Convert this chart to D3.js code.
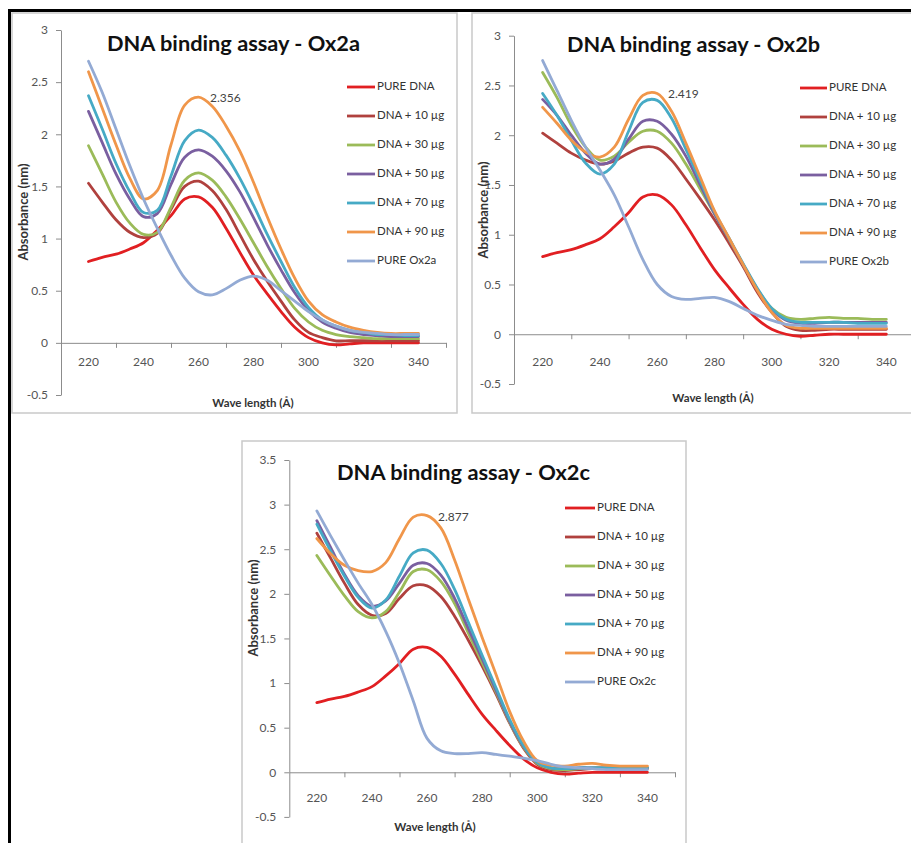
<!DOCTYPE html>
<html><head><meta charset="utf-8">
<script src="https://cdn.jsdelivr.net/npm/d3@7"></script>
<style>body{margin:0;background:#fff;} svg{display:block;font-family:Lato,"Open Sans",sans-serif;}</style>
</head><body>
<svg id="chart" width="911" height="843"></svg>
<script>
// ---------- DATA ----------
const wavelengths = [220,225,230,235,240,245,250,255,260,265,270,275,280,285,290,295,300,305,310,315,320,325,330,335,340];
const seriesNames = ["PURE DNA","DNA + 10 µg","DNA + 30 µg","DNA + 50 µg","DNA + 70 µg","DNA + 90 µg"];
const oxNames = ["PURE Ox2a","PURE Ox2b","PURE Ox2c"];
const panelTitles = ["DNA binding assay - Ox2a","DNA binding assay - Ox2b","DNA binding assay - Ox2c"];
const peakLabels = ["2.356","2.419","2.877"];
const xTickLabels = [220,240,260,280,300,320,340];
const xTickMarks = [230,250,270,290,310,330,350];
const yTicksAB = [-0.5,0,0.5,1,1.5,2,2.5,3];
const yTicksC = [-0.5,0,0.5,1,1.5,2,2.5,3,3.5];

const pureDNA = [0.78,0.82,0.85,0.90,0.96,1.08,1.22,1.38,1.40,1.30,1.10,0.87,0.65,0.47,0.30,0.15,0.05,0.00,-0.02,-0.01,0.00,0.00,0.00,0.00,0.00];

const a10 = [1.53,1.35,1.18,1.06,1.01,1.05,1.28,1.50,1.55,1.46,1.28,1.04,0.80,0.59,0.40,0.22,0.10,0.05,0.02,0.02,0.02,0.02,0.02,0.02,0.02];
const a30 = [1.89,1.62,1.35,1.15,1.04,1.06,1.30,1.56,1.63,1.56,1.40,1.19,0.96,0.73,0.52,0.33,0.20,0.12,0.08,0.06,0.05,0.04,0.04,0.04,0.04];
const a50 = [2.22,1.92,1.62,1.38,1.21,1.24,1.52,1.78,1.85,1.79,1.65,1.45,1.20,0.94,0.70,0.48,0.31,0.20,0.14,0.10,0.08,0.07,0.06,0.06,0.06];
const a70 = [2.37,2.05,1.72,1.45,1.25,1.27,1.60,1.94,2.04,1.97,1.80,1.58,1.32,1.04,0.78,0.53,0.34,0.22,0.16,0.12,0.10,0.08,0.08,0.07,0.07];
const a90 = [2.60,2.25,1.90,1.58,1.38,1.46,1.90,2.28,2.356,2.27,2.08,1.84,1.54,1.21,0.90,0.62,0.40,0.27,0.20,0.15,0.12,0.10,0.09,0.09,0.09];
const aOx = [2.70,2.40,2.05,1.70,1.38,1.10,0.84,0.62,0.49,0.46,0.52,0.60,0.64,0.60,0.50,0.40,0.30,0.22,0.16,0.12,0.10,0.09,0.08,0.08,0.08];

const b10 = [2.02,1.92,1.82,1.75,1.71,1.74,1.82,1.88,1.87,1.75,1.56,1.36,1.15,0.92,0.68,0.42,0.22,0.08,0.04,0.04,0.05,0.05,0.05,0.05,0.05];
const b30 = [2.63,2.38,2.10,1.88,1.75,1.79,1.93,2.04,2.04,1.92,1.71,1.46,1.21,0.96,0.70,0.45,0.26,0.17,0.15,0.16,0.17,0.16,0.16,0.15,0.15];
const b50 = [2.36,2.20,2.00,1.82,1.71,1.76,1.96,2.14,2.14,2.01,1.79,1.50,1.21,0.96,0.70,0.45,0.25,0.14,0.11,0.11,0.12,0.12,0.12,0.12,0.12];
const b70 = [2.42,2.20,1.95,1.72,1.61,1.71,2.04,2.33,2.35,2.17,1.86,1.54,1.23,0.97,0.71,0.46,0.26,0.15,0.12,0.12,0.12,0.12,0.11,0.11,0.11];
const b90 = [2.28,2.12,1.95,1.83,1.78,1.88,2.16,2.40,2.419,2.24,1.92,1.58,1.24,0.97,0.70,0.44,0.22,0.09,0.06,0.06,0.06,0.06,0.06,0.06,0.06];
const bOx = [2.75,2.45,2.15,1.88,1.65,1.40,1.08,0.75,0.50,0.38,0.35,0.36,0.37,0.33,0.26,0.19,0.14,0.10,0.09,0.08,0.08,0.08,0.08,0.08,0.08];

const c10 = [2.68,2.40,2.12,1.88,1.76,1.78,1.95,2.09,2.09,1.97,1.75,1.48,1.19,0.88,0.55,0.27,0.09,0.03,0.02,0.03,0.04,0.04,0.04,0.04,0.04];
const c30 = [2.43,2.20,1.98,1.80,1.73,1.80,2.02,2.25,2.27,2.14,1.89,1.56,1.23,0.90,0.56,0.28,0.10,0.04,0.03,0.04,0.05,0.05,0.05,0.05,0.05];
const c50 = [2.82,2.52,2.22,1.98,1.86,1.92,2.12,2.32,2.34,2.21,1.95,1.61,1.27,0.92,0.57,0.29,0.11,0.05,0.04,0.05,0.05,0.05,0.05,0.05,0.05];
const c70 = [2.78,2.48,2.20,1.96,1.84,1.93,2.20,2.46,2.49,2.34,2.05,1.68,1.31,0.95,0.59,0.30,0.11,0.05,0.04,0.05,0.05,0.05,0.05,0.05,0.05];
const c90 = [2.62,2.45,2.32,2.26,2.25,2.35,2.62,2.86,2.877,2.74,2.38,1.94,1.51,1.10,0.68,0.35,0.13,0.08,0.07,0.09,0.10,0.08,0.07,0.07,0.07];
const cOx = [2.93,2.65,2.38,2.12,1.88,1.58,1.22,0.80,0.38,0.24,0.21,0.21,0.22,0.20,0.18,0.16,0.13,0.09,0.06,0.05,0.04,0.03,0.03,0.03,0.03];

const panelSeries = [
  [pureDNA,a10,a30,a50,a70,a90,aOx],
  [pureDNA,b10,b30,b50,b70,b90,bOx],
  [pureDNA,c10,c30,c50,c70,c90,cOx]
];
const colors = ["#E11F22","#B0413E","#9BBB59","#7A5FA0","#46AAC5","#F0964A","#93AAD4"];

// ---------- LAYOUT ----------
const layouts = [
  {frame:{x:12,y:13,w:445,h:400}, xr:[61,446], yr:[395,30], yTicks:yTicksAB, xLabY:366,
   title:{x:107,y:51}, yTitle:{x:25,y:212}, xTitle:{x:253,y:407}, legend:{x0:347,x1:375,y0:87,dy:29}, peak:{x:210,y:102}},
  {frame:{x:472,y:13,w:450,h:400}, xr:[514,915], yr:[384,35.7], yTicks:yTicksAB, xLabY:366,
   title:{x:567,y:52}, yTitle:{x:485,y:210}, xTitle:{x:713,y:402}, legend:{x0:800,x1:827,y0:88,dy:29}, peak:{x:668,y:98}},
  {frame:{x:242,y:441,w:444,h:420}, xr:[289.3,675], yr:[816.9,460], yTicks:yTicksC, xLabY:802,
   title:{x:337,y:480}, yTitle:{x:255,y:608}, xTitle:{x:435,y:831}, legend:{x0:565,x1:595,y0:508,dy:29}, peak:{x:438,y:521}}
];

const svg = d3.select("#chart");
svg.append("rect").attr("width",911).attr("height",843).attr("fill","#fff");

layouts.forEach((L,i)=>{
  const g = svg.append("g");
  g.append("rect").attr("x",L.frame.x).attr("y",L.frame.y).attr("width",L.frame.w).attr("height",L.frame.h)
    .attr("fill","#fff").attr("stroke","#C9C9C9").attr("stroke-width",1.5);

  const yMax = d3.max(L.yTicks), yMin = d3.min(L.yTicks);
  const x = d3.scaleLinear().domain([210,350]).range(L.xr);
  const y = d3.scaleLinear().domain([yMin,yMax]).range(L.yr);

  // y axis
  const ya = d3.axisLeft(y).tickValues(L.yTicks).tickSize(5).tickSizeOuter(0).tickPadding(8)
    .tickFormat(d=>String(d));
  const yg = g.append("g").attr("transform",`translate(${L.xr[0]},0)`).call(ya);
  yg.select(".domain").attr("stroke","#8C8C8C");
  yg.selectAll(".tick line").attr("stroke","#8C8C8C");
  yg.selectAll(".tick text").attr("fill","#555").attr("font-size",12).attr("font-family","Lato, sans-serif");

  // x axis at zero
  const xa = d3.axisBottom(x).tickValues(xTickMarks).tickSize(5).tickSizeOuter(0).tickFormat("");
  const xg = g.append("g").attr("transform",`translate(0,${y(0)})`).call(xa);
  xg.select(".domain").attr("stroke","#8C8C8C");
  xg.selectAll(".tick line").attr("stroke","#8C8C8C");
  g.append("g").selectAll("text").data(xTickLabels).join("text")
    .attr("x",d=>x(d)).attr("y",L.xLabY).attr("text-anchor","middle")
    .attr("fill","#555").attr("font-size",12).text(d=>d);

  // lines
  const line = d3.line().x(d=>x(d[0])).y(d=>y(d[1])).curve(d3.curveCatmullRom.alpha(0.5));
  panelSeries[i].forEach((vals,k)=>{
    g.append("path").datum(wavelengths.map((w,j)=>[w,vals[j]]))
      .attr("d",line).attr("fill","none").attr("stroke",colors[k])
      .attr("stroke-width",2.8).attr("stroke-linejoin","round").attr("stroke-linecap","round");
  });

  // title
  g.append("text").attr("x",L.title.x).attr("y",L.title.y).attr("font-size",21).attr("font-weight","bold")
    .attr("fill","#111").attr("textLength",253).attr("lengthAdjust","spacingAndGlyphs").text(panelTitles[i]);

  // axis titles
  g.append("text").attr("transform",`translate(${L.yTitle.x},${L.yTitle.y}) rotate(-90)`)
    .attr("text-anchor","middle").attr("dominant-baseline","middle")
    .attr("font-size",13).attr("font-weight","bold").attr("fill","#333").text("Absorbance (nm)");
  g.append("text").attr("x",L.xTitle.x).attr("y",L.xTitle.y).attr("text-anchor","middle")
    .attr("font-size",11.5).attr("font-weight","bold").attr("fill","#333").text("Wave length (Å)");

  // peak label
  g.append("text").attr("x",L.peak.x).attr("y",L.peak.y).attr("font-size",12).attr("fill","#444").text(peakLabels[i]);

  // legend
  const names = seriesNames.concat([oxNames[i]]);
  names.forEach((n,k)=>{
    const ly = L.legend.y0 + k*L.legend.dy;
    g.append("line").attr("x1",L.legend.x0).attr("x2",L.legend.x1).attr("y1",ly).attr("y2",ly)
      .attr("stroke",colors[k]).attr("stroke-width",2.8);
    g.append("text").attr("x",L.legend.x1+2).attr("y",ly).attr("dominant-baseline","middle")
      .attr("font-size",11.5).attr("fill","#333").text(n);
  });
});

// outer black frame lines
svg.append("line").attr("x1",8).attr("x2",911).attr("y1",10.5).attr("y2",10.5).attr("stroke","#000").attr("stroke-width",3);
svg.append("line").attr("x1",9.5).attr("x2",9.5).attr("y1",9).attr("y2",843).attr("stroke","#000").attr("stroke-width",3);
</script>
</body></html>
